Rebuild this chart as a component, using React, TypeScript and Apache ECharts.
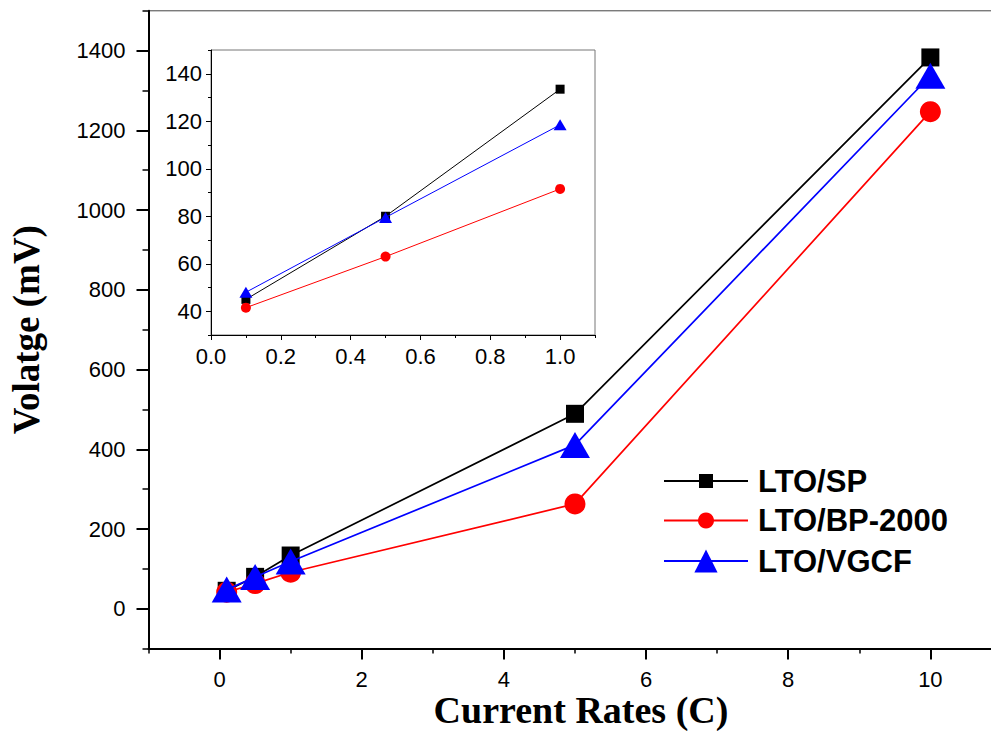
import React, { useEffect, useRef } from "react";
import * as echarts from "echarts";

const rates = [0.1, 0.5, 1, 5, 10];
const insetRates = [0.1, 0.5, 1];
const spValues = [45, 80, 133.5, 489, 1383];
const bpValues = [41.5, 63, 91.5, 263, 1247];
const vgcfValues = [48, 79.5, 118.5, 411, 1337];
const seriesNames = ["LTO/SP", "LTO/BP-2000", "LTO/VGCF"];
const seriesColors = ["#000000", "#ff0000", "#0000ff"];
const seriesSymbols = ["rect", "circle", "triangle"];

const mainXTicks = [0, 2, 4, 6, 8, 10];
const mainYTicks = [0, 200, 400, 600, 800, 1000, 1200, 1400];
const insetXTicks = [0, 0.2, 0.4, 0.6, 0.8, 1.0];
const insetYTicks = [40, 60, 80, 100, 120, 140];

const SANS = "'Liberation Sans', Arial, sans-serif";
const SERIF = "'Liberation Serif', 'Times New Roman', serif";

function pairs(xs: number[], ys: number[]) {
  return xs.map((x, i) => [x, ys[i]]);
}

export default function App() {
  const ref = useRef<HTMLDivElement>(null);
  useEffect(() => {
    if (!ref.current) return;
    const chart = echarts.init(ref.current, undefined, { renderer: "svg" });
    const allValues = [spValues, bpValues, vgcfValues];
    const mainSizes: any[] = [18, 21, [30, 26]];
    const insetSizes: any[] = [9, 10, [13, 11]];
    const legendHeights = [17.5, 20, 29];
    const legendCenters = [481, 520.5, 561];

    const mainSeries = allValues.map((vals, i) => ({
      name: seriesNames[i],
      type: "line",
      xAxisIndex: 0,
      yAxisIndex: 0,
      data: pairs(rates, vals),
      symbol: seriesSymbols[i],
      symbolSize: mainSizes[i],
      lineStyle: { color: seriesColors[i], width: 1.7 },
      itemStyle: { color: seriesColors[i] },
      z: 3 + i,
    }));
    const insetSeries = allValues.map((vals, i) => ({
      name: seriesNames[i],
      type: "line",
      xAxisIndex: 1,
      yAxisIndex: 1,
      data: pairs(insetRates, vals.slice(0, 3)),
      symbol: seriesSymbols[i],
      symbolSize: insetSizes[i],
      lineStyle: { color: seriesColors[i], width: 1 },
      itemStyle: { color: seriesColors[i] },
      z: 3 + i,
    }));

    const legends = seriesNames.map((n, i) => ({
      show: true,
      data: [n],
      orient: "vertical",
      left: 663,
      top: legendCenters[i] - Math.max(legendHeights[i], 31) / 2,
      itemWidth: 84,
      itemHeight: legendHeights[i],
      selectedMode: false,
      padding: 0,
      textStyle: {
        fontFamily: SANS,
        fontWeight: "bold",
        fontSize: 31,
        color: "#000",
        lineHeight: 31,
        padding: [0, 0, 0, 5],
      },
    }));

    const labelStyle = { fontFamily: SANS, fontSize: 22, color: "#000" };

    const option: any = {
      animation: false,
      backgroundColor: "#ffffff",
      legend: legends,
      grid: [
        {
          left: 148.5,
          top: 10.8,
          width: 843,
          height: 637.8,
          show: true,
          borderColor: "#444",
          borderWidth: 1,
          backgroundColor: "transparent",
          containLabel: false,
          outerBoundsMode: "none",
        },
        {
          left: 211,
          top: 50,
          width: 384,
          height: 285,
          show: true,
          borderColor: "#777",
          borderWidth: 1,
          backgroundColor: "#ffffff",
          containLabel: false,
          outerBoundsMode: "none",
        },
      ],
      xAxis: [
        {
          type: "value",
          gridIndex: 0,
          position: "bottom",
          min: -1,
          max: 10.86,
          interval: 1,
          splitLine: { show: false },
          axisLine: { show: true, onZero: false, lineStyle: { color: "#000", width: 2 } },
          axisTick: { show: true, inside: false, length: 11, customValues: mainXTicks, lineStyle: { color: "#000", width: 2 } },
          axisLabel: { ...labelStyle, margin: 20, customValues: mainXTicks, formatter: (v: number) => String(v) },
          name: "Current Rates (C)",
          nameLocation: "middle",
          nameGap: 46,
          nameMoveOverlap: false,
          nameTextStyle: {
            fontFamily: SERIF,
            fontWeight: "bold",
            fontSize: 38,
            lineHeight: 30,
            color: "#000",
            padding: [0, 0, 0, 22],
          },
        },
        {
          type: "value",
          gridIndex: 1,
          position: "bottom",
          min: 0,
          max: 1.1,
          interval: 0.1,
          splitLine: { show: false },
          axisLine: { show: true, onZero: false, lineStyle: { color: "#000", width: 1 } },
          axisTick: { show: true, inside: false, length: 5, customValues: insetXTicks, lineStyle: { color: "#000", width: 1 } },
          axisLabel: { ...labelStyle, margin: 10, customValues: insetXTicks, formatter: (v: number) => v.toFixed(1) },
        },
        {
          type: "value",
          gridIndex: 0,
          position: "bottom",
          offset: 0,
          min: -1,
          max: 10.86,
          interval: 1,
          splitLine: { show: false },
          axisLine: { show: false, onZero: false },
          axisTick: { show: true, inside: false, length: 5, lineStyle: { color: "#000", width: 1.5 } },
          axisLabel: { show: false },
        },
        {
          type: "value",
          gridIndex: 1,
          position: "bottom",
          offset: 0,
          min: 0,
          max: 1.1,
          interval: 0.1,
          splitLine: { show: false },
          axisLine: { show: false, onZero: false },
          axisTick: { show: true, inside: false, length: 3, lineStyle: { color: "#000", width: 1 } },
          axisLabel: { show: false },
        },
      ],
      yAxis: [
        {
          type: "value",
          gridIndex: 0,
          position: "left",
          min: -100,
          max: 1500,
          interval: 100,
          splitLine: { show: false },
          axisLine: { show: true, onZero: false, lineStyle: { color: "#000", width: 2 } },
          axisTick: { show: true, inside: false, length: 12, customValues: mainYTicks, lineStyle: { color: "#000", width: 2 } },
          axisLabel: { ...labelStyle, margin: 23, customValues: mainYTicks, formatter: (v: number) => String(v) },
          name: "Volatge (mV)",
          nameLocation: "middle",
          nameGap: 104,
          nameMoveOverlap: false,
          nameTextStyle: { fontFamily: SERIF, fontWeight: "bold", fontSize: 37, color: "#000" },
        },
        {
          type: "value",
          gridIndex: 1,
          position: "left",
          min: 30,
          max: 150,
          interval: 10,
          splitLine: { show: false },
          axisLine: { show: true, onZero: false, lineStyle: { color: "#000", width: 1 } },
          axisTick: { show: true, inside: false, length: 5, customValues: insetYTicks, lineStyle: { color: "#000", width: 1 } },
          axisLabel: { ...labelStyle, margin: 9, customValues: insetYTicks, formatter: (v: number) => String(v) },
        },
        {
          type: "value",
          gridIndex: 0,
          position: "left",
          offset: 0,
          min: -100,
          max: 1500,
          interval: 100,
          splitLine: { show: false },
          axisLine: { show: false, onZero: false },
          axisTick: { show: true, inside: false, length: 6, lineStyle: { color: "#000", width: 1.5 } },
          axisLabel: { show: false },
        },
        {
          type: "value",
          gridIndex: 1,
          position: "left",
          offset: 0,
          min: 30,
          max: 150,
          interval: 10,
          splitLine: { show: false },
          axisLine: { show: false, onZero: false },
          axisTick: { show: true, inside: false, length: 3, lineStyle: { color: "#000", width: 1 } },
          axisLabel: { show: false },
        },
      ],
      series: [...mainSeries, ...insetSeries],
    };
    chart.setOption(option);
    return () => chart.dispose();
  }, []);
  return (
    <div
      ref={ref}
      style={{ position: "fixed", left: 0, top: 0, width: 991, height: 731, background: "#fff" }}
    />
  );
}
